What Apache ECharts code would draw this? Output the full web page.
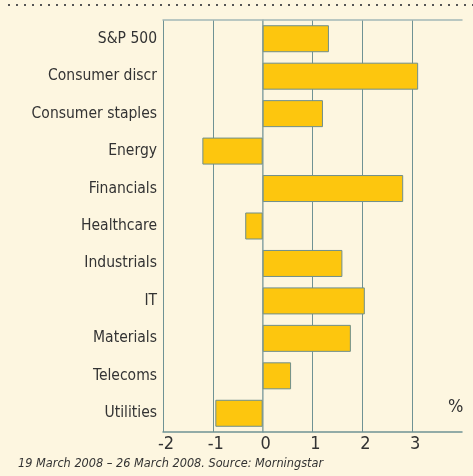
<!DOCTYPE html>
<html>
<head>
<meta charset="utf-8">
<script src="https://cdn.jsdelivr.net/npm/echarts@6/dist/echarts.min.js"></script>
<style>
html, body { margin: 0; padding: 0; background: #fff; }
#chart { width: 473px; height: 476px; }
</style>
</head>
<body>
<div id="chart"></div>
<script>
var sectors = ['S&P 500', 'Consumer discr', 'Consumer staples', 'Energy', 'Financials',
	'Healthcare', 'Industrials', 'IT', 'Materials', 'Telecoms', 'Utilities'];
var changes = [1.33, 3.12, 1.21, -1.21, 2.82, -0.35, 1.6, 2.05, 1.77, 0.57, -0.95];
var xTicks = [-2, -1, 0, 1, 2, 3];

var font = '"DejaVu Sans Condensed", "Liberation Sans Narrow", sans-serif';
var gridCol = '#6f9294';

var chart = echarts.init(document.getElementById('chart'));

chart.setOption({
	backgroundColor: '#fdf6e0',
	animation: false,
	grid: { left: 163, right: 11, top: 20, bottom: 44 },
	xAxis: [{
		type: 'value',
		min: -2,
		max: 4,
		interval: 1,
		axisLine: { show: true, lineStyle: { color: gridCol, width: 1.5 } },
		axisTick: { show: false },
		splitLine: {
			show: true,
			lineStyle: { color: [gridCol, gridCol, gridCol, gridCol, gridCol, gridCol, 'transparent'], width: 1 }
		},
		axisLabel: {
			margin: 3,
			fontFamily: font,
			fontSize: 18,
			color: '#333',
			padding: [0, 0, 0, 6],
			formatter: function(v) {
				return xTicks.indexOf(v) >= 0 ? String(v) : '';
			}
		}
	}, {
		type: 'value',
		position: 'top',
		min: -2,
		max: 4,
		axisLine: { show: true, lineStyle: { color: '#a3b8b6', width: 1.5 } },
		axisTick: { show: false },
		axisLabel: { show: false },
		splitLine: { show: false }
	}],
	yAxis: {
		type: 'category',
		data: sectors,
		inverse: true,
		axisLine: { show: true, lineStyle: { color: '#9fb3b1', width: 1.5 } },
		axisTick: { show: false },
		axisLabel: {
			margin: 6,
			fontFamily: font,
			fontSize: 15.5,
			color: '#333'
		}
	},
	series: [{
		type: 'bar',
		data: changes,
		barWidth: 27,
		itemStyle: {
			color: '#fdc60e',
			borderColor: '#6f8f8c',
			borderWidth: 1
		}
	}],
	graphic: [{
		type: 'line',
		shape: { x1: 8, y1: 5, x2: 473, y2: 5 },
		style: { stroke: '#555', lineWidth: 2, lineDash: [2, 6] }
	}, {
		type: 'text',
		left: 448,
		top: 398,
		style: { text: '%', font: '18px ' + font, fill: '#333' }
	}, {
		type: 'text',
		left: 18,
		top: 457,
		style: { text: '19 March 2008 – 26 March 2008. Source: Morningstar', font: 'italic 12.6px ' + font, fill: '#333' }
	}]
});
</script>
</body>
</html>
